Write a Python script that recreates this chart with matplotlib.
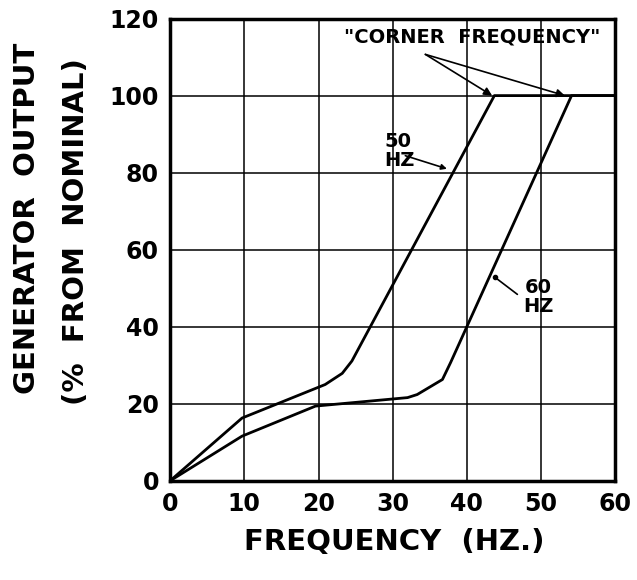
import numpy as np
import matplotlib.pyplot as plt

# curve break points
f50 = [0, 9.7, 20.9, 23.2, 24.5, 43.7, 60]
out50 = [0, 16.3, 25.0, 27.9, 31.1, 100, 100]
f60 = [0, 9.7, 19.6, 32.0, 33.3, 36.7, 37.8, 54.1, 60]
out60 = [0, 11.6, 19.4, 21.6, 22.4, 26.3, 30.7, 100, 100]

xticks = [0, 10, 20, 30, 40, 50, 60]
yticks = [0, 20, 40, 60, 80, 100, 120]

plt.rcParams['font.family'] = ['DejaVu Sans']
plt.rcParams['font.weight'] = 'bold'

fig = plt.figure(figsize=(6.37, 5.80), dpi=100)
ax = fig.add_axes([0.267, 0.171, 0.699, 0.797])

ax.plot(f50, out50, color='black', lw=2.0, solid_joinstyle='round')
ax.plot(f60, out60, color='black', lw=2.0, solid_joinstyle='round')

ax.set_xlim(0, 60)
ax.set_ylim(0, 120)
ax.set_xticks(xticks)
ax.set_yticks(yticks)
ax.tick_params(length=0, labelsize=17, pad=8)
ax.grid(True, color='black', lw=1.1)
for s in ax.spines.values():
    s.set_linewidth(2.5)

# annotations
ax.text(40.7, 115.3, '"CORNER  FREQUENCY"', ha='center', va='center', fontsize=14)
for tip in [(43.4, 100), (53.2, 100)]:
    ax.annotate('', xy=tip, xytext=(34.4, 110.7),
                arrowprops=dict(arrowstyle='-|>', color='black', lw=1.2,
                                mutation_scale=12, shrinkA=0, shrinkB=0))

ax.text(28.9, 85.5, '50\nHZ', ha='left', va='center', fontsize=14, linespacing=1.0)
ax.annotate('', xy=(37.3, 81), xytext=(31.7, 84.4),
            arrowprops=dict(arrowstyle='-|>', color='black', lw=1.2,
                            mutation_scale=8, shrinkA=0, shrinkB=0))

ax.text(49.6, 47.8, '60\nHZ', ha='center', va='center', fontsize=14, linespacing=1.0)
ax.annotate('', xy=(43.8, 52.8), xytext=(46.8, 48.4),
            arrowprops=dict(arrowstyle='-', color='black', lw=1.2,
                            shrinkA=0, shrinkB=0))
ax.plot([43.8], [52.8], 'o', color='black', ms=3)

fig.text(394 / 637, 1 - 542 / 580, 'FREQUENCY  (HZ.)', ha='center', va='center', fontsize=21)
fig.text(27 / 637, 1 - 218 / 580, 'GENERATOR  OUTPUT', ha='center', va='center',
         rotation=90, fontsize=21)
fig.text(76 / 637, 1 - 232 / 580, '(%  FROM  NOMINAL)', ha='center', va='center',
         rotation=90, fontsize=21)

fig.savefig('out.png', dpi=100)
